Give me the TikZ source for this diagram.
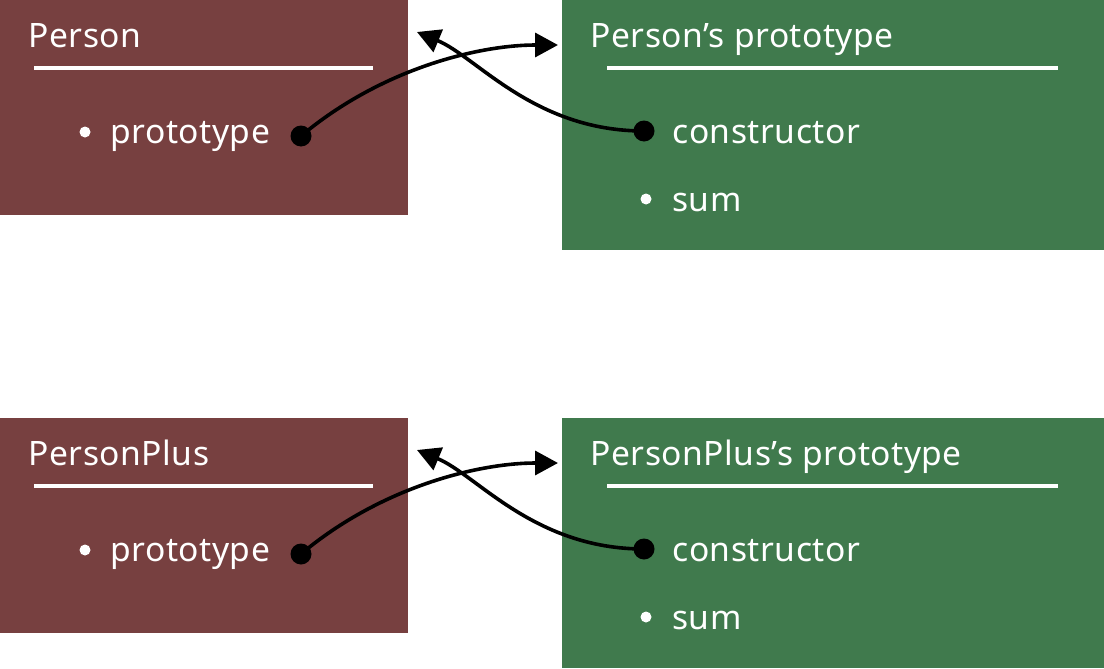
\documentclass[tikz,border=0pt]{standalone}
\usepackage{fontspec}
\setmainfont{Noto Sans}[LetterSpace=1.5]
\usetikzlibrary{positioning, arrows.meta}

\definecolor{fnred}{RGB}{119,64,64}
\definecolor{protogreen}{RGB}{64,122,77}

\tikzset{
    fnbox/.style={rectangle, fill=fnred, anchor=north west, minimum width=204pt, minimum height=107.5pt, inner sep=0pt},
    protobox/.style={rectangle, fill=protogreen, anchor=north west, minimum width=271pt, minimum height=125pt, inner sep=0pt},
    title/.style={text=white, anchor=base west, inner sep=0pt, font=\fontsize{16.8}{19}\selectfont},
    item/.style={title},
    bullet/.style={circle, fill=white, minimum size=5.5pt, inner sep=0pt},
    ptr/.style={circle, fill=black, minimum size=10.5pt, inner sep=0pt},
    rule/.style={white, line width=1.8pt},
    link/.style={line width=1.8pt, -{Triangle[length=11.5pt,width=12pt]}},
}

\begin{document}
\begin{tikzpicture}[x=0.5pt, y=-0.5pt]
    \useasboundingbox (0,0) rectangle (1104,669);
    \foreach \name/\dy/\r in {Person/0/a, PersonPlus/418/b} {
        % constructor function
        \node[fnbox] (fn\r) at (0,\dy) {};
        \node[title] (fntitle\r) at (28,47+\dy) {\name};
        \draw[rule] (34,68+\dy) -- (373,68+\dy);
        \node[bullet] (fnbul\r) at (85,132+\dy) {};
        \node[item] (fnproto\r) at (110,143+\dy) {prototype};
        \node[ptr] (fnptr\r) at (301,136+\dy) {};
        % its prototype object
        \node[protobox] (pr\r) at (562,\dy) {};
        \node[title] (prtitle\r) at (590,47+\dy) {\name’s prototype};
        \draw[rule] (607,68+\dy) -- (1058,68+\dy);
        \node[ptr] (prptr\r) at (644,131+\dy) {};
        \node[item] (prctor\r) at (672,143+\dy) {constructor};
        \node[bullet] (prbul\r) at (646,199+\dy) {};
        \node[item] (prsum\r) at (672,211+\dy) {sum};
        % links
        \coordinate (prin\r) at (558,45+\dy);
        \coordinate (fnin\r) at (417,32+\dy);
        \draw[link] (fnptr\r.center) .. controls +(80,-67) and +(-80,0) .. (prin\r);
        \draw[link] (prptr\r.center) .. controls +(-110,0) and +(60,25) .. (fnin\r);
    }
\end{tikzpicture}
\end{document}
